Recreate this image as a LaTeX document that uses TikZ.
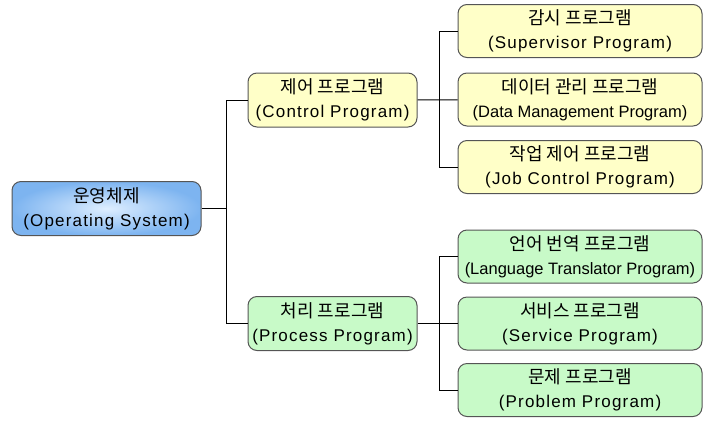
\documentclass[tikz,border=0pt]{standalone}
\usepackage{fontspec}
\setmainfont{Noto Sans CJK KR}
\newfontfamily\latinfont[LetterSpace=7]{Liberation Sans}
\newfontfamily\latinnarrow{Liberation Sans}
\usepackage{tikz}

\definecolor{boxline}{RGB}{85,85,85}
\definecolor{ctrlfill}{RGB}{255,255,200}
\definecolor{procfill}{RGB}{200,250,200}
\definecolor{rootin}{RGB}{222,238,255}
\definecolor{rootout}{RGB}{125,180,240}

\newcommand{\engline}[1]{{\latinfont\fontsize{17}{24}\selectfont #1}}
\newcommand{\engsmall}[1]{{\latinnarrow\fontsize{16.5}{24}\selectfont #1}}

\begin{document}
\begin{tikzpicture}[x=1pt, y=-1pt,
    prog/.style={draw=boxline, line width=1pt, rounded corners=9pt, align=center,
        inner sep=0pt, font=\fontsize{18}{24}\selectfont},
    sysbox/.style={prog, minimum width=189pt, minimum height=54pt,
        inner color=rootin, outer color=rootout},
    midbox/.style={prog, minimum width=169pt, minimum height=54pt},
    subbox/.style={prog, minimum width=244pt, minimum height=53pt},
    link/.style={line width=1pt}]
        \useasboundingbox (0, 0) rectangle (712, 421);
        \node[sysbox] (os) at (106.5, 208.5) {운영체제\\\engline{(Operating System)}};
        \node[midbox, fill=ctrlfill] (ctrl) at (332.5, 100) {제어 프로그램\\\engline{(Control Program)}};
        \node[midbox, fill=procfill] (proc) at (332.5, 323.5) {처리 프로그램\\\engline{(Process Program)}};
        \node[subbox, fill=ctrlfill] (sup) at (580, 31) {감시 프로그램\\\engline{(Supervisor Program)}};
        \node[subbox, fill=ctrlfill] (data) at (580, 99.5) {데이터 관리 프로그램\\\engsmall{(Data Management Program)}};
        \node[subbox, fill=ctrlfill] (job) at (580, 167) {작업 제어 프로그램\\\engline{(Job Control Program)}};
        \node[subbox, fill=procfill] (lang) at (580, 256.5) {언어 번역 프로그램\\\engsmall{(Language Translator Program)}};
        \node[subbox, fill=procfill] (serv) at (580, 323.5) {서비스 프로그램\\\engline{(Service Program)}};
        \node[subbox, fill=procfill] (prob) at (580, 390) {문제 프로그램\\\engline{(Problem Program)}};
        \coordinate (J1) at (226, 208.5);
        \coordinate (J2) at (439, 100);
        \coordinate (J3) at (439, 323.5);
        \draw[link] (os) -- (J1) |- (ctrl);
        \draw[link] (J1) |- (proc);
        \draw[link] (ctrl) -- (data);
        \draw[link] (J2) |- (sup);
        \draw[link] (J2) |- (job);
        \draw[link] (proc) -- (serv);
        \draw[link] (J3) |- (lang);
        \draw[link] (J3) |- (prob);
    \end{tikzpicture}
\end{document}
